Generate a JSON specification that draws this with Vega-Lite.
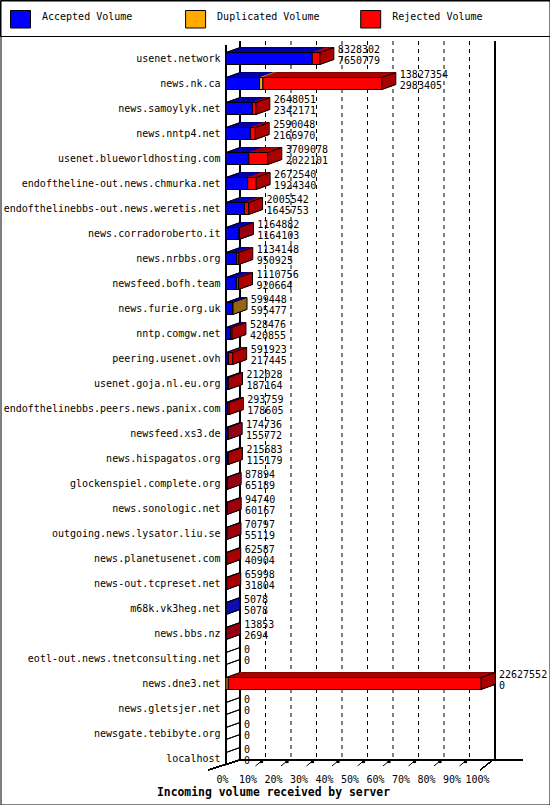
{
  "$schema": "https://vega.github.io/schema/vega-lite/v6.json",
  "width": 255,
  "height": 725,
  "autosize": "none",
  "padding": {"left": 226, "top": 46, "right": 69, "bottom": 34},
  "background": "white",
  "config": {
    "view": {"stroke": null},
    "font": "DejaVu Sans Mono",
    "text": {"font": "DejaVu Sans Mono", "fontSize": 10, "color": "black"},
    "rule": {"color": "black", "strokeWidth": 1},
    "axisX": {"domain": false, "ticks": false, "grid": false, "labelPadding": 3, "labelOffset": -4, "labelFlush": false, "labelOverlap": false, "labelFont": "DejaVu Sans Mono", "labelFontSize": 10, "labelColor": "black", "titleFont": "DejaVu Sans Mono", "titleFontWeight": "bold", "titleFontSize": 11.4, "titleColor": "black"},
    "axisY": {"domain": false, "ticks": false, "grid": false, "labelPadding": 6, "labelFont": "DejaVu Sans Mono", "labelFontSize": 10, "labelColor": "black", "labelLimit": 400}
  },
  "resolve": {"axis": {"x": "independent", "y": "independent"}},
  "data": {"values": [
    {"server": "usenet.network", "total": 8328302, "Accepted Volume": 7650779, "Duplicated Volume": 0, "Rejected Volume": 677523},
    {"server": "news.nk.ca", "total": 13827354, "Accepted Volume": 2983405, "Duplicated Volume": 294000, "Rejected Volume": 10549949},
    {"server": "news.samoylyk.net", "total": 2648051, "Accepted Volume": 2342171, "Duplicated Volume": 0, "Rejected Volume": 305880},
    {"server": "news.nntp4.net", "total": 2590048, "Accepted Volume": 2166970, "Duplicated Volume": 0, "Rejected Volume": 423078},
    {"server": "usenet.blueworldhosting.com", "total": 3709078, "Accepted Volume": 2022101, "Duplicated Volume": 0, "Rejected Volume": 1686977},
    {"server": "endoftheline-out.news.chmurka.net", "total": 2672540, "Accepted Volume": 1924340, "Duplicated Volume": 0, "Rejected Volume": 748200},
    {"server": "endofthelinebbs-out.news.weretis.net", "total": 2005542, "Accepted Volume": 1645753, "Duplicated Volume": 0, "Rejected Volume": 359789},
    {"server": "news.corradoroberto.it", "total": 1164882, "Accepted Volume": 1164103, "Duplicated Volume": 0, "Rejected Volume": 779},
    {"server": "news.nrbbs.org", "total": 1134148, "Accepted Volume": 950925, "Duplicated Volume": 0, "Rejected Volume": 183223},
    {"server": "newsfeed.bofh.team", "total": 1110756, "Accepted Volume": 920664, "Duplicated Volume": 0, "Rejected Volume": 190092},
    {"server": "news.furie.org.uk", "total": 599448, "Accepted Volume": 595477, "Duplicated Volume": 3971, "Rejected Volume": 0},
    {"server": "nntp.comgw.net", "total": 528476, "Accepted Volume": 420855, "Duplicated Volume": 0, "Rejected Volume": 107621},
    {"server": "peering.usenet.ovh", "total": 591923, "Accepted Volume": 217445, "Duplicated Volume": 0, "Rejected Volume": 374478},
    {"server": "usenet.goja.nl.eu.org", "total": 212028, "Accepted Volume": 187164, "Duplicated Volume": 0, "Rejected Volume": 24864},
    {"server": "endofthelinebbs.peers.news.panix.com", "total": 293759, "Accepted Volume": 178605, "Duplicated Volume": 0, "Rejected Volume": 115154},
    {"server": "newsfeed.xs3.de", "total": 174736, "Accepted Volume": 155772, "Duplicated Volume": 0, "Rejected Volume": 18964},
    {"server": "news.hispagatos.org", "total": 215683, "Accepted Volume": 115179, "Duplicated Volume": 0, "Rejected Volume": 100504},
    {"server": "glockenspiel.complete.org", "total": 87894, "Accepted Volume": 65189, "Duplicated Volume": 0, "Rejected Volume": 22705},
    {"server": "news.sonologic.net", "total": 94740, "Accepted Volume": 60167, "Duplicated Volume": 0, "Rejected Volume": 34573},
    {"server": "outgoing.news.lysator.liu.se", "total": 70797, "Accepted Volume": 55119, "Duplicated Volume": 0, "Rejected Volume": 15678},
    {"server": "news.planetusenet.com", "total": 62587, "Accepted Volume": 40904, "Duplicated Volume": 0, "Rejected Volume": 21683},
    {"server": "news-out.tcpreset.net", "total": 65998, "Accepted Volume": 31804, "Duplicated Volume": 0, "Rejected Volume": 34194},
    {"server": "m68k.vk3heg.net", "total": 5078, "Accepted Volume": 5078, "Duplicated Volume": 0, "Rejected Volume": 0},
    {"server": "news.bbs.nz", "total": 13853, "Accepted Volume": 2694, "Duplicated Volume": 0, "Rejected Volume": 11159},
    {"server": "eotl-out.news.tnetconsulting.net", "total": 0, "Accepted Volume": 0, "Duplicated Volume": 0, "Rejected Volume": 0},
    {"server": "news.dne3.net", "total": 22627552, "Accepted Volume": 0, "Duplicated Volume": 200000, "Rejected Volume": 22427552},
    {"server": "news.gletsjer.net", "total": 0, "Accepted Volume": 0, "Duplicated Volume": 0, "Rejected Volume": 0},
    {"server": "newsgate.tebibyte.org", "total": 0, "Accepted Volume": 0, "Duplicated Volume": 0, "Rejected Volume": 0},
    {"server": "localhost", "total": 0, "Accepted Volume": 0, "Duplicated Volume": 0, "Rejected Volume": 0}
  ]},
  "layer": [
    {
      "data": {"values": [{"g": 2262755.2}, {"g": 4525510.4}, {"g": 6788265.6}, {"g": 9051020.8}, {"g": 11313776}, {"g": 13576531.2}, {"g": 15839286.4}, {"g": 18102041.6}, {"g": 20364796.8}]},
      "layer": [
        {
          "mark": {"type": "rule", "strokeDash": [4, 4], "xOffset": 14, "yOffset": -17.5, "y2Offset": 1.5},
          "encoding": {
            "x": {"field": "g", "type": "quantitative", "axis": null},
            "y": {"datum": "usenet.network", "type": "nominal", "axis": null},
            "y2": {"datum": "localhost"}
          }
        },
        {
          "mark": {"type": "rule", "xOffset": 4, "x2Offset": 10, "yOffset": 7.5, "y2Offset": 2.5},
          "encoding": {
            "x": {"field": "g", "type": "quantitative", "axis": null},
            "x2": {"field": "g"},
            "y": {"datum": "localhost", "type": "nominal", "axis": null},
            "y2": {"datum": "localhost"}
          }
        },
        {
          "mark": {"type": "point", "shape": "square", "size": 10, "filled": true, "color": "black", "opacity": 1, "xOffset": 10, "yOffset": 3},
          "encoding": {
            "x": {"field": "g", "type": "quantitative", "axis": null},
            "y": {"datum": "localhost", "type": "nominal", "axis": null}
          }
        }
      ]
    },
    {
      "mark": {"type": "rule", "xOffset": 14, "yOffset": -17.5, "y2Offset": 1.5},
      "encoding": {
        "x": {"datum": 0, "type": "quantitative", "axis": null},
        "y": {"datum": "usenet.network", "type": "nominal", "axis": null},
        "y2": {"datum": "localhost"}
      }
    },
    {
      "mark": {"type": "rule", "xOffset": 14, "yOffset": -17.5, "y2Offset": 1.5},
      "encoding": {
        "x": {"datum": 22627552, "type": "quantitative", "axis": null},
        "y": {"datum": "usenet.network", "type": "nominal", "axis": null},
        "y2": {"datum": "localhost"}
      }
    },
    {
      "mark": {"type": "rule", "xOffset": 0, "yOffset": -13, "y2Offset": 6.5},
      "encoding": {
        "x": {"datum": 0, "type": "quantitative", "axis": null},
        "y": {"datum": "usenet.network", "type": "nominal", "axis": null},
        "y2": {"datum": "localhost"}
      }
    },
    {
      "mark": {"type": "rule", "xOffset": 14, "x2Offset": 42, "yOffset": 1.5},
      "encoding": {
        "x": {"datum": 0, "type": "quantitative", "axis": null},
        "x2": {"datum": 22627552},
        "y": {"datum": "localhost", "type": "nominal", "axis": null}
      }
    },
    {
      "mark": {"type": "rule", "xOffset": -18, "x2Offset": 14, "yOffset": 11.5, "y2Offset": 1.5},
      "encoding": {
        "x": {"datum": 0, "type": "quantitative", "axis": null},
        "x2": {"datum": 0},
        "y": {"datum": "localhost", "type": "nominal", "axis": null},
        "y2": {"datum": "localhost"}
      }
    },
    {
      "mark": {"type": "rule", "xOffset": -1, "x2Offset": 12, "yOffset": 11.5, "y2Offset": 1.5},
      "encoding": {
        "x": {"datum": 22627552, "type": "quantitative", "axis": null},
        "x2": {"datum": 22627552},
        "y": {"datum": "localhost", "type": "nominal", "axis": null},
        "y2": {"datum": "localhost"}
      }
    },
    {
      "mark": {"type": "rule", "x2Offset": 14, "yOffset": 6, "y2Offset": 1},
      "encoding": {
        "x": {"datum": 0, "type": "quantitative", "axis": null},
        "x2": {"datum": 0},
        "y": {"field": "server", "type": "nominal", "axis": null},
        "y2": {"field": "server"}
      }
    },
    {
      "transform": [
        {"fold": ["Accepted Volume", "Duplicated Volume", "Rejected Volume"], "as": ["type", "volume"]},
        {"filter": "datum.volume > 0"}
      ],
      "encoding": {
        "x": {"field": "volume", "type": "quantitative", "stack": "zero", "axis": null},
        "y": {"field": "server", "type": "nominal", "axis": null},
        "order": {"field": "type", "type": "ordinal", "sort": "ascending"},
        "stroke": {"field": "type", "type": "nominal", "scale": {"range": ["#0000aa", "#b07800", "#aa0000"]}, "legend": null},
        "fill": {
          "field": "type", "type": "nominal",
          "scale": {"range": ["#0000aa", "#b07800", "#aa0000"]},
          "legend": {
            "orient": "none", "legendX": -226, "legendY": -46,
            "direction": "horizontal", "columns": 3, "gridAlign": "all",
            "title": " ", "titleOrient": "right", "titlePadding": 66, "titleFontSize": 10, "titleFont": "DejaVu Sans Mono",
            "padding": 6,
            "symbolType": "M-0.6,-0.6L-0.1,-0.85H1.9V0.9L1.4,1.15V-0.6Z",
            "symbolSize": 400, "symbolStrokeColor": "black", "symbolStrokeWidth": 1,
            "labelFont": "DejaVu Sans Mono", "labelFontSize": 10, "labelOffset": 15, "labelOpacity": 0,
            "columnPadding": 36.1
          }
        }
      },
      "layer": [
        {"mark": {"type": "bar", "height": 12, "xOffset": 14, "x2Offset": 14, "yOffset": -5, "strokeWidth": 1}, "encoding": {"stroke": {"value": "black"}}},
        {"mark": {"type": "bar", "height": 12, "xOffset": 13, "x2Offset": 13, "yOffset": -4.64, "strokeWidth": 1}},
        {"mark": {"type": "bar", "height": 12, "xOffset": 12, "x2Offset": 12, "yOffset": -4.29, "strokeWidth": 1}},
        {"mark": {"type": "bar", "height": 12, "xOffset": 11, "x2Offset": 11, "yOffset": -3.93, "strokeWidth": 1}},
        {"mark": {"type": "bar", "height": 12, "xOffset": 10, "x2Offset": 10, "yOffset": -3.57, "strokeWidth": 1}},
        {"mark": {"type": "bar", "height": 12, "xOffset": 9, "x2Offset": 9, "yOffset": -3.21, "strokeWidth": 1}},
        {"mark": {"type": "bar", "height": 12, "xOffset": 8, "x2Offset": 8, "yOffset": -2.86, "strokeWidth": 1}},
        {"mark": {"type": "bar", "height": 12, "xOffset": 7, "x2Offset": 7, "yOffset": -2.5, "strokeWidth": 1}},
        {"mark": {"type": "bar", "height": 12, "xOffset": 6, "x2Offset": 6, "yOffset": -2.14, "strokeWidth": 1}},
        {"mark": {"type": "bar", "height": 12, "xOffset": 5, "x2Offset": 5, "yOffset": -1.79, "strokeWidth": 1}},
        {"mark": {"type": "bar", "height": 12, "xOffset": 4, "x2Offset": 4, "yOffset": -1.43, "strokeWidth": 1}},
        {"mark": {"type": "bar", "height": 12, "xOffset": 3, "x2Offset": 3, "yOffset": -1.07, "strokeWidth": 1}},
        {"mark": {"type": "bar", "height": 12, "xOffset": 2, "x2Offset": 2, "yOffset": -0.71, "strokeWidth": 1}},
        {"mark": {"type": "bar", "height": 12, "xOffset": 1, "x2Offset": 1, "yOffset": -0.36, "strokeWidth": 1}},
        {"mark": {"type": "bar", "height": 12, "xOffset": 0, "x2Offset": 0, "yOffset": 0, "strokeWidth": 1}}
      ]
    },
    {
      "transform": [
        {"fold": ["Accepted Volume", "Duplicated Volume", "Rejected Volume"], "as": ["type", "volume"]},
        {"filter": "datum.volume > 0"}
      ],
      "mark": {"type": "bar", "height": 12, "stroke": "black", "strokeWidth": 1},
      "encoding": {
        "x": {
          "field": "volume", "type": "quantitative", "stack": "zero",
          "scale": {"domain": [0, 22627552], "nice": false, "zero": true},
          "axis": {
            "title": "Incoming volume received by server",
            "values": [0, 2262755.2, 4525510.4, 6788265.6, 9051020.8, 11313776, 13576531.2, 15839286.4, 18102041.6, 20364796.8, 22627552],
            "labelExpr": "round(datum.value / 226275.52) + '%'",
            "titleX": 47, "titleY": 21, "titleAlign": "center", "titleBaseline": "middle"
          }
        },
        "y": {
          "field": "server", "type": "nominal",
          "scale": {"domain": ["usenet.network", "news.nk.ca", "news.samoylyk.net", "news.nntp4.net", "usenet.blueworldhosting.com", "endoftheline-out.news.chmurka.net", "endofthelinebbs-out.news.weretis.net", "news.corradoroberto.it", "news.nrbbs.org", "newsfeed.bofh.team", "news.furie.org.uk", "nntp.comgw.net", "peering.usenet.ovh", "usenet.goja.nl.eu.org", "endofthelinebbs.peers.news.panix.com", "newsfeed.xs3.de", "news.hispagatos.org", "glockenspiel.complete.org", "news.sonologic.net", "outgoing.news.lysator.liu.se", "news.planetusenet.com", "news-out.tcpreset.net", "m68k.vk3heg.net", "news.bbs.nz", "eotl-out.news.tnetconsulting.net", "news.dne3.net", "news.gletsjer.net", "newsgate.tebibyte.org", "localhost"], "paddingInner": 0, "paddingOuter": 0},
          "axis": {"title": null}
        },
        "order": {"field": "type", "type": "ordinal", "sort": "ascending"},
        "color": {
          "field": "type", "type": "nominal",
          "scale": {"domain": ["Accepted Volume", "Duplicated Volume", "Rejected Volume"], "range": ["#0000ff", "#ffaa00", "#ff0000"]},
          "legend": {
            "orient": "none", "legendX": -226, "legendY": -46,
            "direction": "horizontal", "columns": 3, "gridAlign": "all",
            "title": " ", "titleOrient": "right", "titlePadding": 66, "titleFontSize": 10, "titleFont": "DejaVu Sans Mono",
            "padding": 6, "strokeColor": "black", "fillColor": "white",
            "symbolType": "M-0.6,-0.6H1.4V1.15H-0.6Z",
            "symbolSize": 400, "symbolStrokeColor": "black", "symbolStrokeWidth": 1, "symbolOpacity": 1,
            "labelFont": "DejaVu Sans Mono", "labelFontSize": 10, "labelOffset": 15, "labelColor": "black",
            "columnPadding": 36.1
          }
        }
      }
    },
    {
      "mark": {"type": "rule", "x2Offset": 14, "yOffset": -6, "y2Offset": -11},
      "encoding": {
        "x": {"datum": 0, "type": "quantitative", "axis": null},
        "x2": {"datum": 0},
        "y": {"field": "server", "type": "nominal", "axis": null},
        "y2": {"field": "server"}
      }
    },
    {
      "mark": {"type": "rule", "x2Offset": 14, "yOffset": -6, "y2Offset": -11},
      "encoding": {
        "x": {"field": "total", "type": "quantitative", "axis": null},
        "x2": {"field": "total"},
        "y": {"field": "server", "type": "nominal", "axis": null},
        "y2": {"field": "server"}
      }
    },
    {
      "mark": {"type": "rule", "x2Offset": 14, "yOffset": 6, "y2Offset": 1},
      "encoding": {
        "x": {"field": "total", "type": "quantitative", "axis": null},
        "x2": {"field": "total"},
        "y": {"field": "server", "type": "nominal", "axis": null},
        "y2": {"field": "server"}
      }
    },
    {
      "mark": {"type": "text", "align": "left", "baseline": "middle", "dx": 18, "dy": -9},
      "encoding": {
        "x": {"field": "total", "type": "quantitative", "axis": null},
        "y": {"field": "server", "type": "nominal", "axis": null},
        "text": {"field": "total", "type": "quantitative", "format": "d"}
      }
    },
    {
      "mark": {"type": "text", "align": "left", "baseline": "middle", "dx": 18, "dy": 2},
      "encoding": {
        "x": {"field": "total", "type": "quantitative", "axis": null},
        "y": {"field": "server", "type": "nominal", "axis": null},
        "text": {"field": "Accepted Volume", "type": "quantitative", "format": "d"}
      }
    },
    {
      "mark": {"type": "point", "opacity": 0},
      "encoding": {
        "x": {"datum": 0, "type": "quantitative", "axis": null},
        "y": {"datum": "localhost", "type": "nominal", "axis": null},
        "shape": {
          "datum": " ", "type": "nominal",
          "scale": {"range": ["M-0.95,-0.95H53.95V79.45H-0.95Z"]},
          "legend": {
            "orient": "none", "legendX": -226, "legendY": -46, "padding": 0, "title": null,
            "symbolSize": 400, "symbolStrokeColor": "black", "symbolFillColor": "transparent",
            "symbolStrokeWidth": 1, "symbolOpacity": 1,
            "labelFontSize": 1, "labelOpacity": 0, "labelOffset": 0
          }
        }
      }
    }
  ]
}
